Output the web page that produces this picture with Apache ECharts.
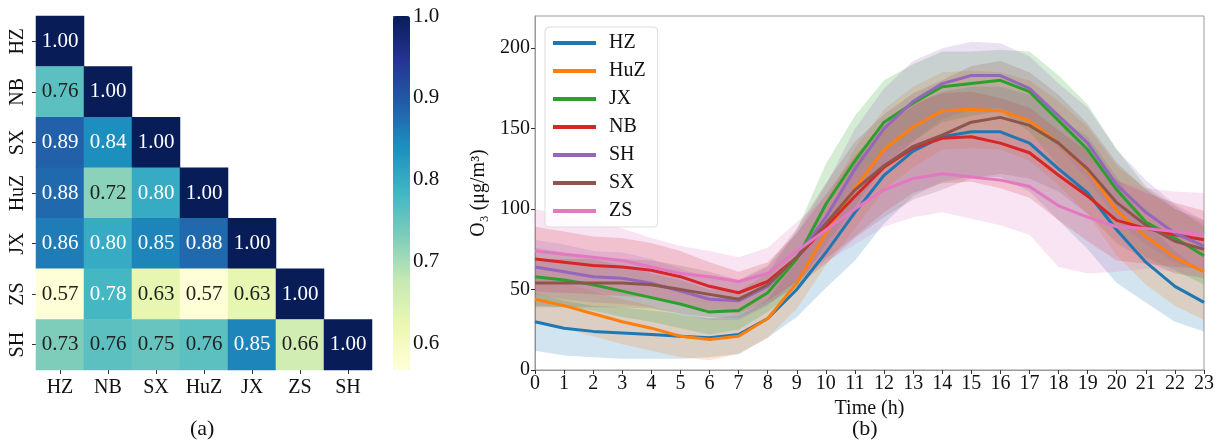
<!DOCTYPE html>
<html>
<head>
<meta charset="utf-8">
<script src="https://cdn.jsdelivr.net/npm/echarts@6/dist/echarts.min.js"></script>
<style>
  html, body { margin: 0; padding: 0; background: #fff; }
  #main { width: 1219px; height: 444px; }
</style>
</head>
<body>
<div id="main"></div>
<script>
// (a) correlation matrix, lower triangle, row by row
const cities = ['HZ', 'NB', 'SX', 'HuZ', 'JX', 'ZS', 'SH']
const corrRows = [
  [1.00],
  [0.76, 1.00],
  [0.89, 0.84, 1.00],
  [0.88, 0.72, 0.80, 1.00],
  [0.86, 0.80, 0.85, 0.88, 1.00],
  [0.57, 0.78, 0.63, 0.57, 0.63, 1.00],
  [0.73, 0.76, 0.75, 0.76, 0.85, 0.66, 1.00]
]
const cbarTicks = [0.6, 0.7, 0.8, 0.9, 1.0]

// (b) hourly O3 means and band half widths
const hours = ['0','1','2','3','4','5','6','7','8','9','10','11','12','13','14','15','16','17','18','19','20','21','22','23']
const lineNames = ['HZ', 'HuZ', 'JX', 'NB', 'SH', 'SX', 'ZS']
const lineColors = ['#1f77b4', '#ff7f0e', '#2ca02c', '#d62728', '#9467bd', '#8c564b', '#e377c2']
const HZ  = [30, 26, 24, 23, 22, 21, 20, 22, 32, 50, 73, 98, 121, 136, 145, 148, 148, 141, 125, 110, 87, 67, 52, 42]
const HuZ = [44, 40, 35, 30, 26, 21, 19, 21, 32, 54, 85, 113, 137, 151, 161, 162, 161, 155, 141, 124, 99, 83, 70, 61]
const JX  = [58, 56, 53, 49, 45, 41, 36, 37, 48, 69, 103, 130, 154, 166, 176, 178, 180, 173, 155, 137, 112, 92, 82, 71]
const NB  = [69, 67, 65, 64, 62, 58, 52, 48, 55, 70, 89, 108, 126, 138, 144, 145, 141, 135, 121, 108, 93, 88, 84, 81]
const SH  = [64, 61, 58, 57, 54, 49, 44, 43, 52, 70, 95, 125, 150, 167, 178, 183, 183, 175, 158, 141, 115, 98, 85, 77]
const SX  = [54, 54, 54, 54, 53, 50, 47, 44, 53, 70, 91, 112, 127, 139, 146, 154, 157, 152, 141, 125, 104, 90, 80, 75]
const ZS  = [74, 72, 70, 68, 64, 60, 58, 55, 60, 74, 87, 100, 112, 119, 122, 120, 118, 114, 102, 95, 89, 88, 86, 84]
const HZ_sd  = [18, 17, 16, 16, 15, 14, 12, 12, 12, 17, 22, 30, 30, 28, 28, 28, 28, 30, 32, 35, 33, 25, 22, 18]
const HuZ_sd = [15, 14, 14, 14, 14, 13, 13, 11, 12, 16, 20, 25, 25, 25, 24, 24, 24, 25, 26, 27, 28, 30, 30, 30]
const JX_sd  = [18, 17, 16, 16, 15, 15, 14, 12, 12, 18, 25, 28, 26, 24, 22, 20, 19, 25, 28, 28, 25, 22, 20, 18]
const NB_sd  = [20, 19, 18, 18, 17, 16, 15, 13, 12, 15, 20, 25, 28, 28, 28, 28, 28, 28, 28, 28, 25, 22, 20, 18]
const SH_sd  = [17, 17, 16, 16, 15, 14, 13, 12, 12, 15, 20, 25, 25, 25, 22, 21, 20, 20, 20, 22, 22, 20, 18, 16]
const SX_sd  = [15, 15, 15, 15, 15, 15, 14, 12, 12, 18, 25, 30, 32, 33, 34, 35, 35, 33, 30, 28, 25, 22, 20, 18]
const ZS_sd  = [26, 24, 22, 20, 18, 17, 16, 15, 16, 18, 20, 22, 23, 24, 24, 26, 28, 30, 38, 35, 28, 25, 25, 26]
const lineMeans = [HZ, HuZ, JX, NB, SH, SX, ZS]
const lineSds = [HZ_sd, HuZ_sd, JX_sd, NB_sd, SH_sd, SX_sd, ZS_sd]

const font = 'Liberation Serif'
const myChart = echarts.init(document.getElementById('main'))

// heatmap cells
const cells = []
corrRows.forEach((row, r) => {
  row.forEach((v, c) => {
    cells.push({
      value: [c, r, v],
      label: { color: v >= 0.77 ? '#ffffff' : '#222222' }
    })
  })
})

const series = [
  {
    type: 'heatmap',
    xAxisIndex: 0,
    yAxisIndex: 0,
    data: cells,
    label: {
      show: true,
      fontFamily: font,
      fontSize: 21,
      formatter: p => p.value[2].toFixed(2)
    },
    emphasis: { disabled: true }
  }
]

// bands: transparent lower line, then the range stacked on top of it
lineNames.forEach((name, i) => {
  const lower = lineMeans[i].map((m, k) => m - lineSds[i][k])
  const range = lineSds[i].map(s => 2 * s)
  series.push({
    name: name + '_lo',
    type: 'line',
    xAxisIndex: 1,
    yAxisIndex: 1,
    stack: 'band' + name,
    data: lower,
    showSymbol: false,
    lineStyle: { opacity: 0 },
    silent: true,
    z: 1
  })
  series.push({
    name: name + '_band',
    type: 'line',
    xAxisIndex: 1,
    yAxisIndex: 1,
    stack: 'band' + name,
    data: range,
    showSymbol: false,
    lineStyle: { opacity: 0 },
    areaStyle: { color: lineColors[i], opacity: 0.2 },
    silent: true,
    z: 1
  })
})

lineNames.forEach((name, i) => {
  series.push({
    name: name,
    type: 'line',
    xAxisIndex: 1,
    yAxisIndex: 1,
    data: lineMeans[i],
    color: lineColors[i],
    showSymbol: false,
    lineStyle: { width: 3, color: lineColors[i] },
    z: 3
  })
})

const option = {
  backgroundColor: '#ffffff',
  animation: false,
  textStyle: { fontFamily: font },
  grid: [
    { left: 36, top: 16, width: 336, height: 354 },
    { left: 535, top: 16, width: 669, height: 354, show: true, borderColor: '#999', borderWidth: 1 },
    { left: 393, top: 16, width: 17, height: 354 }
  ],
  xAxis: [
    {
      type: 'category',
      gridIndex: 0,
      data: cities,
      axisLine: { show: false },
      axisTick: { show: true, alignWithLabel: true, length: 4, lineStyle: { color: '#333' } },
      axisLabel: { fontFamily: font, fontSize: 20, color: '#111', margin: 8 },
      splitLine: { show: false }
    },
    {
      type: 'category',
      gridIndex: 1,
      data: hours,
      boundaryGap: false,
      name: 'Time (h)',
      nameLocation: 'middle',
      nameGap: 24,
      nameTextStyle: { fontFamily: font, fontSize: 20, color: '#111' },
      axisLine: { lineStyle: { color: '#999' } },
      axisTick: { length: 4, lineStyle: { color: '#333' } },
      axisLabel: { fontFamily: font, fontSize: 20, color: '#111', margin: 4, interval: 0 },
      splitLine: { show: false }
    },
    {
      type: 'value',
      gridIndex: 2,
      show: false
    }
  ],
  yAxis: [
    {
      type: 'category',
      gridIndex: 0,
      data: cities,
      inverse: true,
      axisLine: { show: false },
      axisTick: { show: true, alignWithLabel: true, length: 4, lineStyle: { color: '#333' } },
      axisLabel: { fontFamily: font, fontSize: 20, color: '#111', rotate: 90, margin: 8 },
      splitLine: { show: false }
    },
    {
      type: 'value',
      gridIndex: 1,
      min: 0,
      max: 220,
      interval: 50,
      name: 'O\u2083 (\u03bcg/m\u00b3)',
      nameLocation: 'middle',
      nameGap: 42,
      nameRotate: 90,
      nameTextStyle: { fontFamily: font, fontSize: 20, color: '#111' },
      axisLine: { show: true, lineStyle: { color: '#999' } },
      axisTick: { show: true, length: 4, customValues: [0, 50, 100, 150, 200], lineStyle: { color: '#333' } },
      axisLabel: { fontFamily: font, fontSize: 20, color: '#111', margin: 5, customValues: [0, 50, 100, 150, 200] },
      splitLine: { show: false }
    },
    {
      type: 'value',
      gridIndex: 2,
      position: 'right',
      min: 0.567,
      max: 1.0,
      axisLine: { show: false },
      axisTick: { show: true, length: 4, customValues: cbarTicks, lineStyle: { color: '#333' } },
      axisLabel: {
        fontFamily: font, fontSize: 21, color: '#111', margin: 3,
        customValues: cbarTicks,
        formatter: v => v.toFixed(1)
      },
      splitLine: { show: false }
    }
  ],
  visualMap: {
    type: 'continuous',
    seriesIndex: 0,
    min: 0.567,
    max: 1.0,
    calculable: false,
    left: 393,
    top: 16,
    itemWidth: 17,
    itemHeight: 354,
    showLabel: false,
    text: ['', ''],
    padding: 0,
    inRange: {
      color: ['#ffffd9', '#edf8b1', '#c7e9b4', '#7fcdbb', '#41b6c4', '#1d91c0', '#225ea8', '#253494', '#081d58']
    }
  },
  legend: {
    data: lineNames,
    orient: 'vertical',
    left: 545,
    top: 27,
    icon: 'rect',
    itemWidth: 43,
    itemHeight: 4,
    itemGap: 8,
    padding: [6, 12, 6, 8],
    backgroundColor: 'rgba(255,255,255,0.8)',
    borderColor: '#ddd',
    borderWidth: 1,
    borderRadius: 4,
    textStyle: { fontFamily: font, fontSize: 20, color: '#111', lineHeight: 20, padding: [0, 0, 0, 8] }
  },
  graphic: [
    { type: 'text', left: 190, top: 418, style: { text: '(a)', font: '22px "Liberation Serif"', fill: '#111' } },
    { type: 'text', left: 852, top: 418, style: { text: '(b)', font: '22px "Liberation Serif"', fill: '#111' } }
  ],
  series: series
}

myChart.setOption(option)
</script>
</body>
</html>
